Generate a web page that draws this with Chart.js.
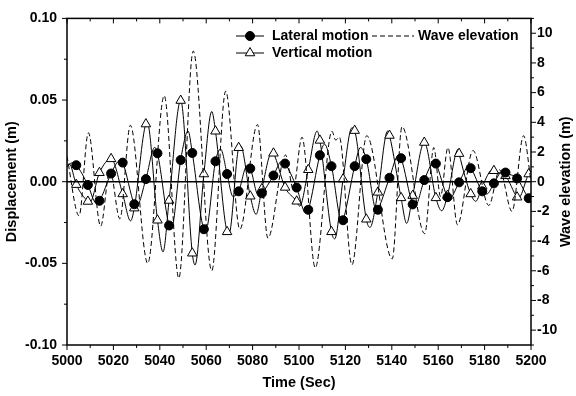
<!DOCTYPE html>
<html lang="en">
<head>
<meta charset="UTF-8" />
<title>Lateral / vertical motion and wave elevation</title>
<script src="https://cdn.jsdelivr.net/npm/chart.js"></script>
<style>
    body { margin: 0; background: #fff; }
    canvas { display: block; }
</style>
</head>
<body>
<canvas id="motionChart" width="576" height="396"></canvas>
<script>
// time (s) and displacement (m)
const latT = [5000, 5002, 5004, 5009, 5012.5, 5014, 5019, 5022.8, 5024, 5029, 5030, 5034, 5037.8, 5039, 5044, 5045,
    5049, 5052.2, 5054, 5059, 5059.8, 5064, 5066.2, 5069, 5071.5, 5074, 5077.5, 5079, 5082.5, 5084, 5089, 5092.5,
    5094, 5099, 5102.8, 5104, 5109, 5111, 5114, 5118.5, 5119, 5124, 5126.5, 5129, 5133.5, 5134, 5139, 5142.8,
    5144, 5149, 5150, 5154, 5158.3, 5159, 5164, 5164.8, 5169, 5173, 5174, 5179, 5181, 5184, 5188, 5189,
    5194, 5199, 5200];
const latV = [0.009, 0.0115, 0.0101, -0.0020, -0.0130, -0.0117, 0.0050, 0.0130, 0.0117, -0.0138, -0.0150, 0.0016, 0.0210, 0.0174, -0.0268, -0.0285,
    0.0133, 0.0310, 0.0176, -0.0291, -0.0300, 0.0125, 0.0200, 0.0047, -0.0090, -0.0059, 0.0095, 0.0081, -0.0085, -0.0071, 0.0038, 0.0125,
    0.0111, -0.0036, -0.0190, -0.0172, 0.0162, 0.0230, 0.0095, -0.0245, -0.0236, 0.0095, 0.0210, 0.0138, -0.0180, -0.0172, 0.0024, 0.0160,
    0.0144, -0.0139, -0.0150, 0.0010, 0.0120, 0.0111, -0.0095, -0.0105, -0.0004, 0.0090, 0.0083, -0.0059, -0.0075, -0.0010, 0.0070, 0.0056,
    0.0020, -0.0101, -0.0110];

const vertT = [5000, 5001, 5004, 5009, 5009.8, 5014, 5019, 5024, 5027.4, 5029, 5034, 5034.6, 5039, 5041.4, 5044, 5049,
    5054, 5055.2, 5059, 5062.4, 5064, 5069, 5069.8, 5074, 5074.8, 5079, 5081.5, 5084, 5088.3, 5089, 5094, 5099,
    5100.3, 5104, 5107.8, 5109, 5114, 5115.4, 5119, 5122.8, 5124, 5129, 5130.6, 5134, 5138.2, 5139, 5144, 5146.4,
    5149, 5154, 5159, 5161.5, 5164, 5168.6, 5169, 5174, 5176.2, 5179, 5183.5, 5184, 5189, 5194, 5194.6, 5199, 5200];
const vertV = [0.0100, 0.0110, -0.0018, -0.0121, -0.0128, 0.0055, 0.0140, -0.0075, -0.0240, -0.0162, 0.0353, 0.0360, -0.0236, -0.0430, -0.0115, 0.0497,
    -0.0438, -0.0510, 0.0047, 0.0430, 0.0309, -0.0307, -0.0320, 0.0208, 0.0220, -0.0089, -0.0200, -0.0044, 0.0180, 0.0174, -0.0035, -0.0120,
    -0.0150, 0.0073, 0.0310, 0.0253, -0.0307, -0.0350, 0.0016, 0.0330, 0.0313, -0.0230, -0.0280, -0.0065, 0.0310, 0.0283, -0.0099, -0.0255,
    -0.0085, 0.0240, -0.0099, -0.0178, -0.0085, 0.0198, 0.0172, -0.0075, -0.0120, -0.0028, 0.0075, 0.0067, 0.0036, -0.0095, -0.0100, 0.0047, 0.0060];

// wave elevation (m), right axis
const waveT = [5000, 5005.2, 5009.2, 5014.5, 5018.5, 5022.8, 5027.3, 5034.8, 5041.9, 5048.2, 5054.4, 5062.4, 5068.4, 5074.5,
    5082.1, 5086.6, 5094.2, 5097.5, 5101.3, 5107, 5114.2, 5115.8, 5117.4, 5122.8, 5129.2, 5140.2, 5144.4, 5154.2,
    5158.1, 5161, 5164.2, 5168.3, 5175, 5181.8, 5186.5, 5191.8, 5196.8, 5200];
const waveV = [1.7, -2.3, 3.3, -3.0, 0.8, -2.5, 3.8, -5.5, 5.8, -6.5, 8.8, -6.0, 6.1, -3.2,
    3.85, -3.8, 1.8, -0.5, 3.0, -5.8, 3.4, 2.8, 3.0, -5.6, 3.1, -5.2, 3.7, -3.5,
    2.3, -1.0, 2.3, -2.9, 2.1, -1.6, 0.8, -2.0, 3.1, 0.0];

const xTicks = [5000, 5020, 5040, 5060, 5080, 5100, 5120, 5140, 5160, 5180, 5200];
const yTicks = [-0.10, -0.05, 0.00, 0.05, 0.10];
const y2Ticks = [-10, -8, -6, -4, -2, 0, 2, 4, 6, 8, 10];

const FONT = 'Liberation Sans, Arial, sans-serif';

function pts(ts, vs) {
    return ts.map((t, i) => ({ x: t, y: vs[i] }));
}

// symbols sit every 5 s, starting at 5004
function isMarker(t) {
    return Number.isInteger(t) && (t - 5004) % 5 === 0;
}

const framePlugin = {
    id: 'frame',
    afterDraw(chart) {
        const { ctx, chartArea: a, scales } = chart;
        const x = scales.x, y = scales.y, y2 = scales.y2;
        ctx.save();
        ctx.strokeStyle = '#000';

        // zero line
        ctx.lineWidth = 1.5;
        ctx.beginPath();
        ctx.moveTo(a.left, y.getPixelForValue(0));
        ctx.lineTo(a.right, y.getPixelForValue(0));
        ctx.stroke();

        // box
        ctx.strokeRect(a.left, a.top, a.right - a.left, a.bottom - a.top);

        ctx.lineWidth = 1;
        ctx.beginPath();
        // x every 10 s: out at the bottom, in at the top
        for (let t = 5000; t <= 5200; t += 10) {
            const px = x.getPixelForValue(t);
            const len = (t % 20 === 0) ? 5 : 3;
            ctx.moveTo(px, a.bottom); ctx.lineTo(px, a.bottom + len);
            ctx.moveTo(px, a.top); ctx.lineTo(px, a.top + len);
        }
        // left, every 0.025, outward
        for (let i = -4; i <= 4; i++) {
            const py = y.getPixelForValue(i * 0.025);
            const len = (i % 2 === 0) ? 5 : 3;
            ctx.moveTo(a.left, py); ctx.lineTo(a.left - len, py);
        }
        // right, every 1 m, outward
        for (let v = -11; v <= 11; v++) {
            const py = y2.getPixelForValue(v);
            const len = (v % 2 === 0) ? 5 : 3;
            ctx.moveTo(a.right, py); ctx.lineTo(a.right + len, py);
        }
        ctx.stroke();

        // right axis title, reading upwards
        ctx.fillStyle = '#000';
        ctx.font = 'bold 14.5px ' + FONT;
        ctx.textAlign = 'center';
        ctx.textBaseline = 'middle';
        ctx.save();
        ctx.translate(566, (a.top + a.bottom) / 2);
        ctx.rotate(-Math.PI / 2);
        ctx.fillText('Wave elevation (m)', 0, 0);
        ctx.restore();

        // legend
        ctx.font = 'bold 14px ' + FONT;
        ctx.textAlign = 'left';
        ctx.lineWidth = 1;
        ctx.beginPath();
        ctx.moveTo(236, 36); ctx.lineTo(264, 36);
        ctx.moveTo(236, 53); ctx.lineTo(264, 53);
        ctx.stroke();
        ctx.fillStyle = '#000';
        Chart.helpers.drawPoint(ctx, { pointStyle: 'circle', radius: 4.5, borderWidth: 1 }, 250, 36);
        ctx.fillStyle = '#fff';
        Chart.helpers.drawPoint(ctx, { pointStyle: 'triangle', radius: 5.5, borderWidth: 1 }, 250, 53);
        ctx.setLineDash([5, 3]);
        ctx.beginPath();
        ctx.moveTo(372, 36); ctx.lineTo(414, 36);
        ctx.stroke();
        ctx.setLineDash([]);
        ctx.fillStyle = '#000';
        ctx.fillText('Lateral motion', 272, 36);
        ctx.fillText('Vertical motion', 272, 53);
        ctx.fillText('Wave elevation', 418, 36);
        ctx.restore();
    }
};

const tickFont = { family: FONT, size: 14, weight: 'bold' };
const titleFont = { family: FONT, size: 14.5, weight: 'bold' };

new Chart(document.getElementById('motionChart'), {
    type: 'line',
    data: {
        datasets: [
            {
                label: 'Wave elevation',
                data: pts(waveT, waveV),
                yAxisID: 'y2',
                borderColor: '#000',
                borderWidth: 1,
                borderDash: [5, 3],
                pointRadius: 0,
                cubicInterpolationMode: 'monotone'
            },
            {
                label: 'Lateral motion',
                data: pts(latT, latV),
                yAxisID: 'y',
                borderColor: '#000',
                borderWidth: 1,
                pointStyle: 'circle',
                pointRadius: c => isMarker(c.raw.x) ? 4.5 : 0,
                pointBackgroundColor: '#000',
                pointBorderColor: '#000',
                cubicInterpolationMode: 'monotone'
            },
            {
                label: 'Vertical motion',
                data: pts(vertT, vertV),
                yAxisID: 'y',
                borderColor: '#000',
                borderWidth: 1,
                pointStyle: 'triangle',
                pointRadius: c => isMarker(c.raw.x) ? 5.5 : 0,
                pointBackgroundColor: '#fff',
                pointBorderColor: '#000',
                pointBorderWidth: 1,
                cubicInterpolationMode: 'monotone'
            }
        ]
    },
    options: {
        responsive: false,
        animation: false,
        layout: { padding: { top: 16, left: 0, right: 0, bottom: 0 } },
        plugins: {
            legend: { display: false },
            tooltip: { enabled: false }
        },
        scales: {
            x: {
                type: 'linear',
                min: 5000,
                max: 5200,
                afterBuildTicks: s => { s.ticks = xTicks.map(v => ({ value: v })); },
                afterFit: s => { s.height = 51; },
                grid: { display: false, drawTicks: false },
                border: { display: false },
                ticks: { color: '#000', font: tickFont, padding: 8, maxRotation: 0, callback: v => String(v) },
                title: { display: true, text: 'Time (Sec)', color: '#000', font: titleFont, padding: { top: 0, bottom: 4 } }
            },
            y: {
                position: 'left',
                min: -0.1,
                max: 0.1,
                afterBuildTicks: s => { s.ticks = yTicks.map(v => ({ value: v })); },
                afterFit: s => { s.width = 67; },
                grid: { display: false, drawTicks: false },
                border: { display: false },
                ticks: { color: '#000', font: tickFont, padding: 10, callback: v => v.toFixed(2) },
                title: { display: true, text: 'Displacement (m)', color: '#000', font: titleFont, padding: { top: 3, bottom: 0 } }
            },
            y2: {
                position: 'right',
                min: -11,
                max: 11,
                afterBuildTicks: s => { s.ticks = y2Ticks.map(v => ({ value: v })); },
                afterFit: s => { s.width = 45; },
                grid: { display: false, drawTicks: false },
                border: { display: false },
                ticks: { color: '#000', font: tickFont, padding: 6 }
            }
        }
    },
    plugins: [framePlugin]
});
</script>
</body>
</html>
